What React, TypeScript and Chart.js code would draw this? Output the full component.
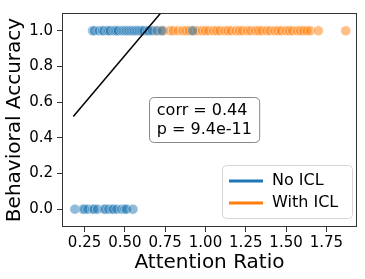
import React, { useEffect, useRef } from "react";
import { Chart, registerables } from "chart.js";

Chart.register(...registerables);

const noIclCorrectX = [0.30, 0.31, 0.34, 0.36, 0.37, 0.39, 0.40, 0.41, 0.43, 0.44, 0.45, 0.46, 0.48, 0.49, 0.50, 0.51, 0.52, 0.53, 0.54, 0.55, 0.56, 0.57, 0.58, 0.59, 0.60, 0.61, 0.62, 0.64, 0.65, 0.67, 0.70, 0.73, 0.92];
const noIclWrongX = [0.19, 0.24, 0.25, 0.27, 0.30, 0.31, 0.33, 0.37, 0.38, 0.40, 0.42, 0.43, 0.45, 0.48, 0.50, 0.51, 0.55];
const withIclX = [0.69, 0.72, 0.74, 0.78, 0.80, 0.83, 0.86, 0.88, 0.90, 0.93, 0.95, 0.98, 1.00, 1.02, 1.05, 1.07, 1.09, 1.12, 1.14, 1.16, 1.19, 1.21, 1.23, 1.26, 1.28, 1.31, 1.33, 1.35, 1.38, 1.40, 1.43, 1.45, 1.47, 1.50, 1.52, 1.54, 1.57, 1.59, 1.61, 1.63, 1.65, 1.70, 1.87];
const fitLineX = [0.18, 0.76];
const fitLineY = [0.52, 1.14];
const xTicks = [0.25, 0.5, 0.75, 1.0, 1.25, 1.5, 1.75];
const yTicks = [0.0, 0.2, 0.4, 0.6, 0.8, 1.0];
const statLines = ["corr = 0.44", "p = 9.4e-11"];
const legendLabels = ["No ICL", "With ICL"];

const BLUE = "#1f77b4";
const ORANGE = "#ff7f0e";
const FONT = "'DejaVu Sans', sans-serif";

function roundRect(ctx: CanvasRenderingContext2D, x: number, y: number, w: number, h: number, r: number) {
  ctx.beginPath();
  ctx.moveTo(x + r, y);
  ctx.lineTo(x + w - r, y);
  ctx.quadraticCurveTo(x + w, y, x + w, y + r);
  ctx.lineTo(x + w, y + h - r);
  ctx.quadraticCurveTo(x + w, y + h, x + w - r, y + h);
  ctx.lineTo(x + r, y + h);
  ctx.quadraticCurveTo(x, y + h, x, y + h - r);
  ctx.lineTo(x, y + r);
  ctx.quadraticCurveTo(x, y, x + r, y);
  ctx.closePath();
}

const overlayPlugin = {
  id: "overlay",
  afterDraw(chart: any) {
    const ctx: CanvasRenderingContext2D = chart.ctx;
    const a = chart.chartArea;
    ctx.save();
    // frame
    ctx.strokeStyle = "#333";
    ctx.lineWidth = 1;
    ctx.strokeRect(Math.round(a.left) + 0.5, Math.round(a.top) + 0.5, Math.round(a.right - a.left) - 1, Math.round(a.bottom - a.top) - 1);

    // stats box
    ctx.font = `16px ${FONT}`;
    const lh = 19;
    const wBox = Math.max(...statLines.map((s) => ctx.measureText(s).width)) + 15;
    const hBox = 45;
    const cx = a.left + (a.right - a.left) * 0.481;
    const cy = a.top + (a.bottom - a.top) * 0.498;
    roundRect(ctx, Math.round(cx - wBox / 2) + 0.5, Math.round(cy - hBox / 2) + 0.5, wBox, hBox, 5);
    ctx.fillStyle = "rgba(255,255,255,0.85)";
    ctx.fill();
    ctx.lineWidth = 1;
    ctx.strokeStyle = "#888";
    ctx.stroke();
    ctx.fillStyle = "#000";
    ctx.textBaseline = "middle";
    ctx.textAlign = "left";
    statLines.forEach((s, i) => {
      ctx.fillText(s, cx - wBox / 2 + 8, cy - lh / 2 + lh * i + 1);
    });

    // legend
    ctx.font = `16px ${FONT}`;
    const lx0 = 222, ly0 = 165, lw = 130, lhh = 53;
    roundRect(ctx, lx0 + 0.5, ly0 + 0.5, lw, lhh, 4);
    ctx.fillStyle = "rgba(255,255,255,0.8)";
    ctx.fill();
    ctx.strokeStyle = "#d6d6d6";
    ctx.stroke();
    const colors = [BLUE, ORANGE];
    legendLabels.forEach((s, i) => {
      const y = 181 + i * 22;
      ctx.strokeStyle = colors[i];
      ctx.lineWidth = 3;
      ctx.beginPath();
      ctx.moveTo(229, y);
      ctx.lineTo(263, y);
      ctx.stroke();
      ctx.fillStyle = "#000";
      ctx.fillText(s, 272, y);
    });
    ctx.restore();
  },
};

export default function App() {
  const ref = useRef<HTMLCanvasElement>(null);
  useEffect(() => {
    const pt = (xs: number[], y: number) => xs.map((x) => ({ x, y }));
    const chart = new Chart(ref.current!, {
      type: "scatter",
      data: {
        datasets: [
          {
            label: "fit",
            data: fitLineX.map((x, i) => ({ x, y: fitLineY[i] })),
            showLine: true,
            borderColor: "#000",
            borderWidth: 1.5,
            pointRadius: 0,
          },
          {
            label: "No ICL",
            data: [...pt(noIclCorrectX, 1), ...pt(noIclWrongX, 0)],
            backgroundColor: "rgba(31,119,180,0.5)",
            borderColor: "rgba(255,255,255,0.6)",
            borderWidth: 0.7,
            pointRadius: 5,
          },
          {
            label: "With ICL",
            data: pt(withIclX, 1),
            backgroundColor: "rgba(255,127,14,0.5)",
            borderColor: "rgba(255,255,255,0.6)",
            borderWidth: 0.7,
            pointRadius: 5,
          },
        ],
      },
      options: {
        responsive: false,
        animation: false,
        devicePixelRatio: 1,
        layout: { padding: { top: 5, right: 8, left: 0, bottom: 0 } },
        plugins: { legend: { display: false }, tooltip: { enabled: false } },
        scales: {
          x: {
            type: "linear",
            min: 0.11,
            max: 1.94,
            afterBuildTicks: (s: any) => { s.ticks = xTicks.map((v) => ({ value: v })); },
            afterFit: (s: any) => { s.height = 52; },
            grid: { display: true, drawOnChartArea: false, drawTicks: true, tickLength: 5, color: "#333" },
            border: { display: false },
            ticks: { color: "#000", font: { family: FONT, size: 15 }, padding: 2, maxRotation: 0, callback: (v: any) => Number(v).toFixed(2) },
            title: { display: true, text: "Attention Ratio", color: "#000", font: { family: FONT, size: 20 }, padding: { top: 0, bottom: 4 } },
          },
          y: {
            type: "linear",
            min: -0.1,
            max: 1.1,
            afterBuildTicks: (s: any) => { s.ticks = yTicks.map((v) => ({ value: v })); },
            afterFit: (s: any) => { s.width = 62; },
            grid: { display: true, drawOnChartArea: false, drawTicks: true, tickLength: 5, color: "#333" },
            border: { display: false },
            ticks: { color: "#000", font: { family: FONT, size: 15 }, padding: 4, callback: (v: any) => Number(v).toFixed(1) },
            title: { display: true, text: "Behavioral Accuracy", color: "#000", font: { family: FONT, size: 20 }, padding: { top: 3, bottom: 0 } },
          },
        },
      },
      plugins: [overlayPlugin],
    } as any);
    return () => chart.destroy();
  }, []);
  return (
    <div style={{ position: "absolute", left: 0, top: 0, width: 365, height: 279, background: "#fff" }}>
      <canvas ref={ref} width={365} height={279} />
    </div>
  );
}
